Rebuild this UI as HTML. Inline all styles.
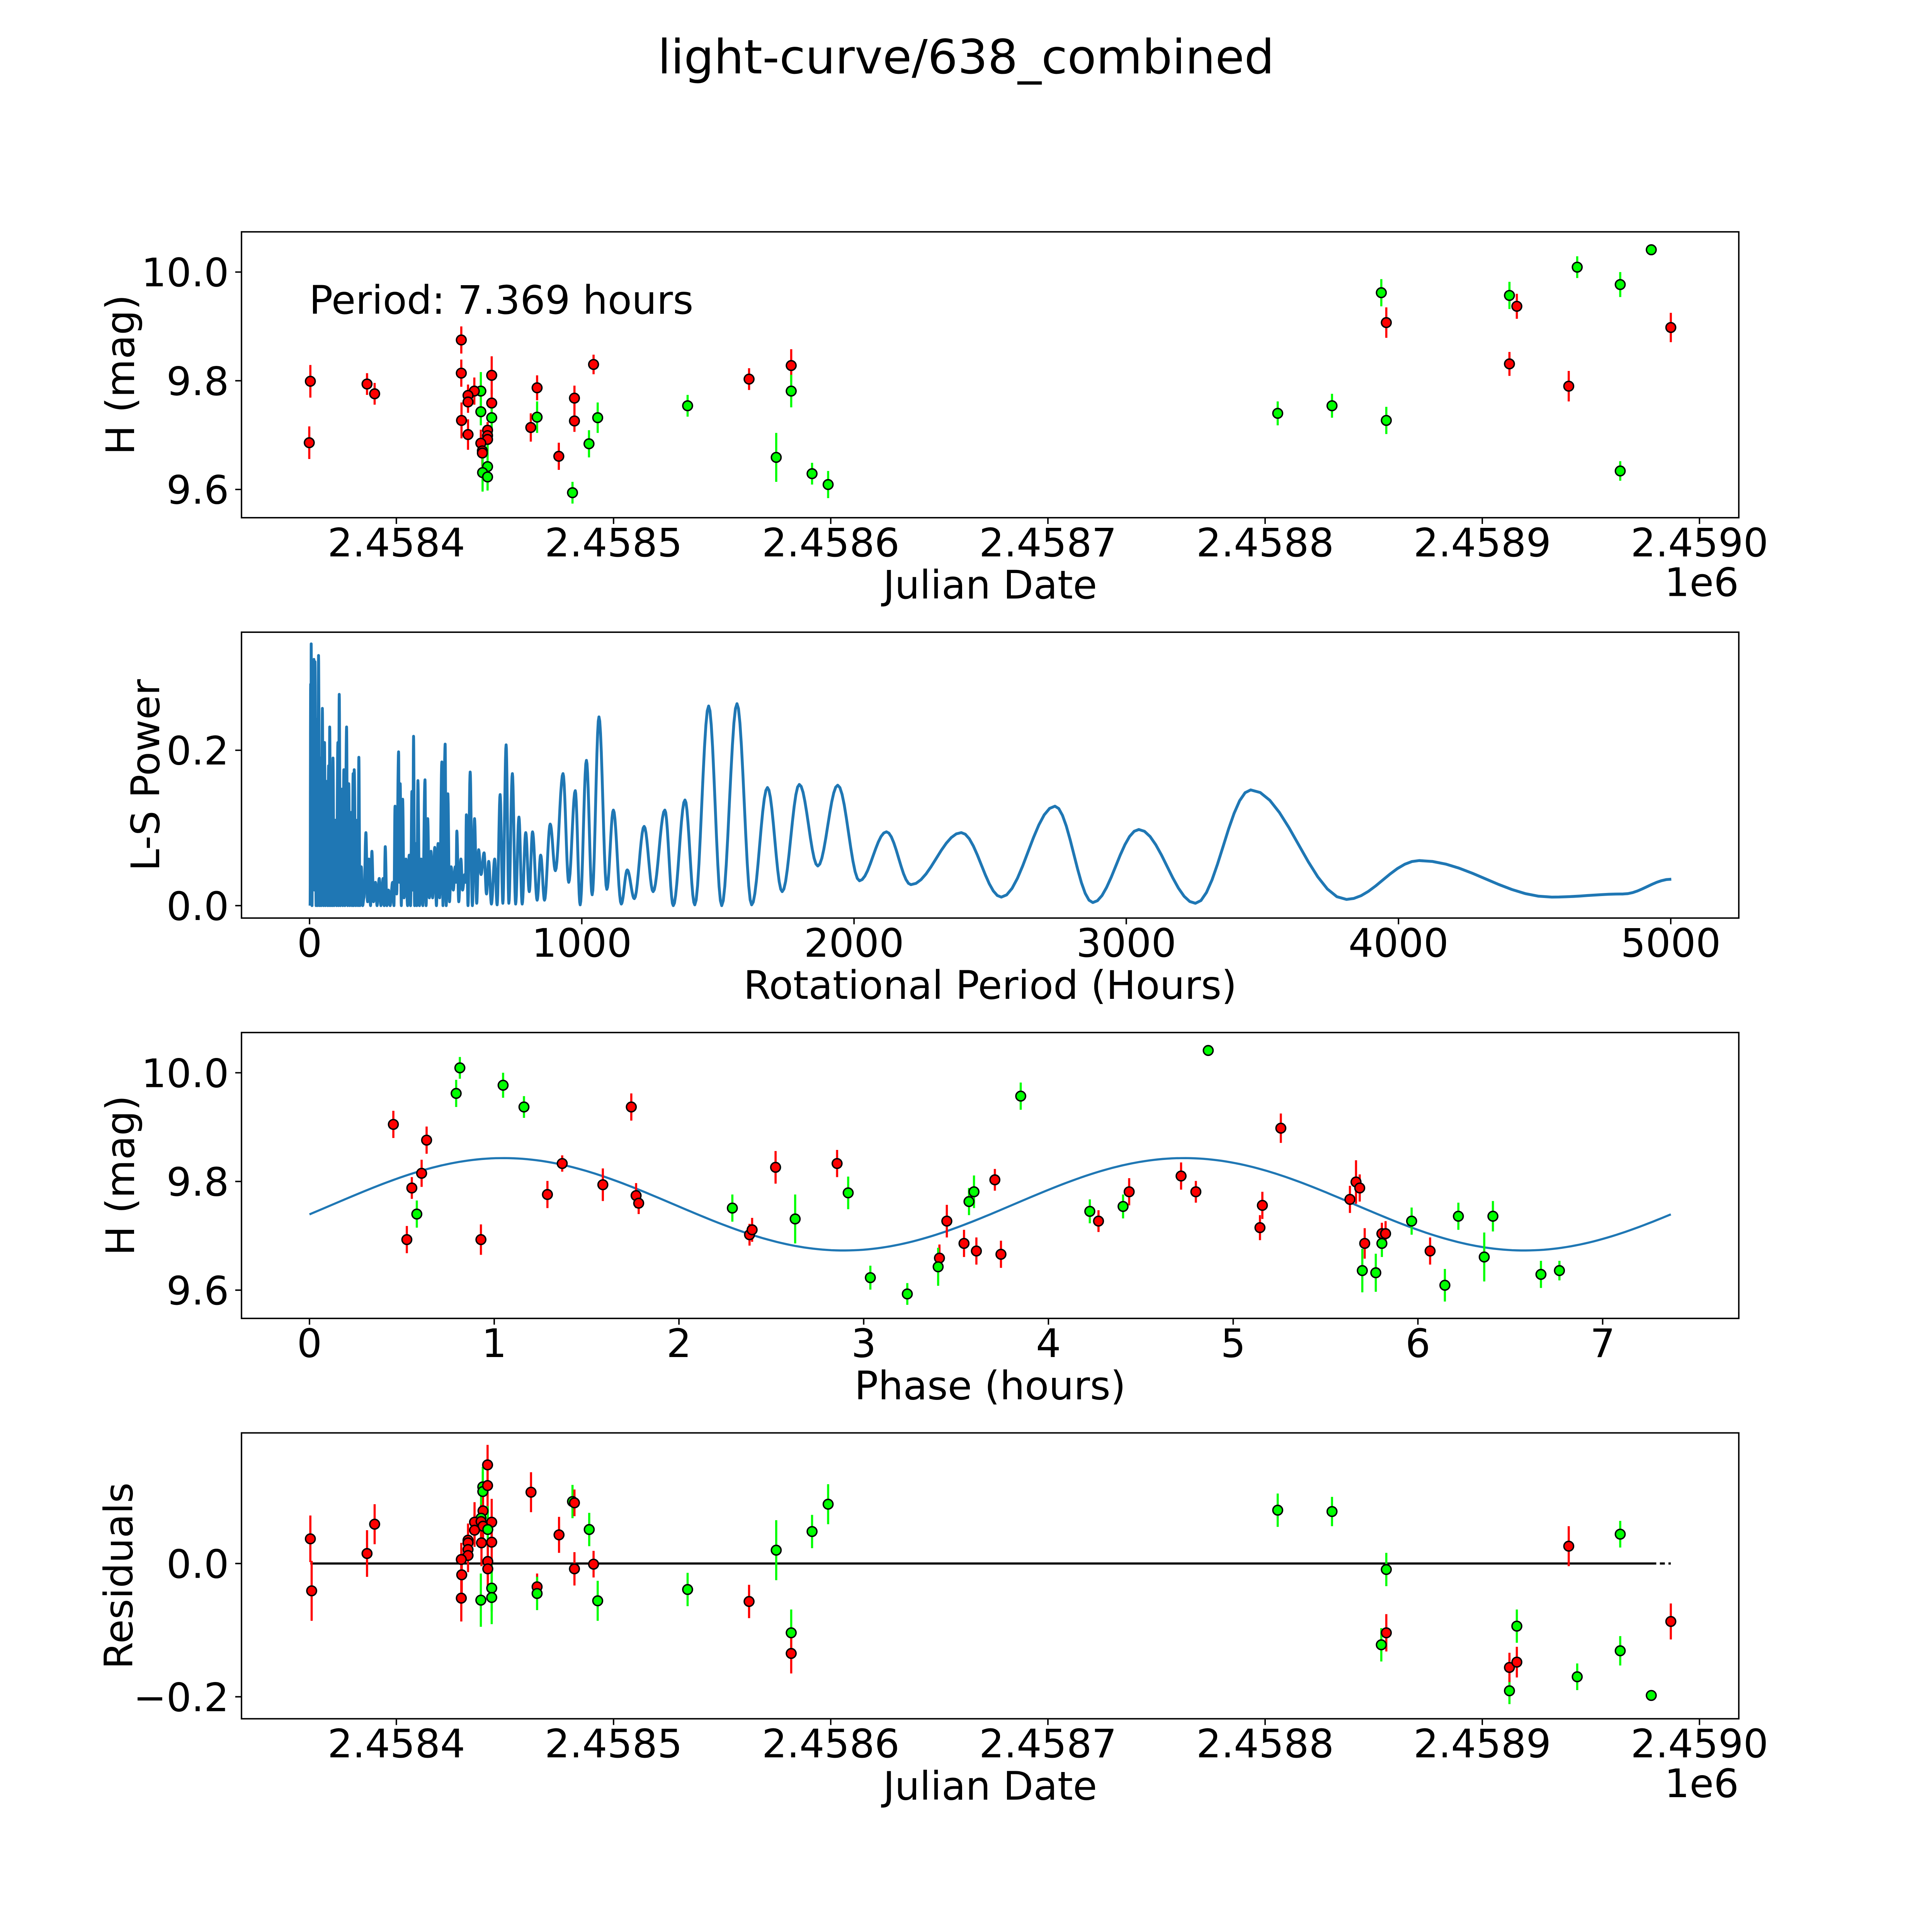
<!DOCTYPE html>
<html><head><meta charset="utf-8"><style>
html,body{margin:0;padding:0;background:#fff;overflow:hidden;width:100%;height:100%;}
svg{display:block;font-family:"DejaVu Sans","Liberation Sans",sans-serif;width:100vw;height:100vh;}
</style></head><body>
<svg id="fig" viewBox="0 0 5400 5400" preserveAspectRatio="xMinYMin meet" xmlns="http://www.w3.org/2000/svg">
<rect x="0" y="0" width="5400" height="5400" fill="#fff"/>
<text x="2700" y="205" font-size="132" text-anchor="middle">light-curve/638_combined</text>
</svg>
<script>
// ---- Panel 1: light curve (days since JD 2458400, H mag, error, band) ----
const lcJD  = [-39.6,-40.1,-13.5,-10.0,29.9,29.9,43.9,38.9,35.9,33.0,33.0,43.9,38.9,43.9,30.0,33.0,42.0,42.0,42.0,38.9,39.6,39.6,42.0,39.7,42.0,64.8,64.8,61.9,74.8,81.1,82.0,82.0,88.7,90.8,92.7,134.1,162.4,181.8,181.8,174.9,191.4,198.8,405.8,430.8,453.5,455.8,455.8,512.5,512.5,515.9,539.8,543.7,563.5,563.5,577.8,586.8];
const lcMag = [9.799,9.686,9.794,9.776,9.875,9.814,9.810,9.781,9.781,9.773,9.761,9.759,9.743,9.732,9.727,9.701,9.709,9.699,9.692,9.685,9.671,9.667,9.642,9.631,9.623,9.787,9.733,9.714,9.661,9.594,9.768,9.726,9.684,9.830,9.732,9.754,9.803,9.828,9.781,9.659,9.629,9.609,9.740,9.754,9.962,9.907,9.727,9.957,9.831,9.937,9.790,10.009,9.977,9.634,10.041,9.898];
const lcErr = [0.03,0.03,0.02,0.02,0.025,0.025,0.035,0.035,0.025,0.02,0.02,0.025,0.025,0.03,0.033,0.028,0.015,0.02,0.02,0.025,0.025,0.025,0.04,0.035,0.025,0.023,0.029,0.026,0.025,0.02,0.023,0.02,0.025,0.018,0.028,0.02,0.02,0.03,0.03,0.045,0.02,0.025,0.022,0.022,0.025,0.028,0.025,0.025,0.022,0.023,0.028,0.02,0.023,0.018,0.008,0.027];
const lcBand = "RRRRRRRGRRRRGGRRRRRRRRGGGRGRRGRRGRGGRRGGGGGGGRGGRRRGGGGR";
// ---- Panel 2: Lomb-Scargle periodogram extrema (hours, power) ----
const lsPeriod = [2,4,5,6,9,12,14,16,18,20,24,27,30,33,37,40,43,47,51,55,58,62,66,70,72,74,78,82,84,86,90,95,99,104,106,109,113,118,122,126,130,136,140,144,148,152,156,160,162,164,170,175,178,181,185,190,195,200,207,213,218,224,229,235,242,248,256,262,270,274,278,284,290,296,305,310,314,320,327,330,333,337,342,347,354,360,366,371,376,379,382,386,391,394,398,404,410,416,424,428,434,440,446,452,460,466,472,478,486,490,498,502,508,514,520,528,535,538,541,548,556,562,570,573,576,582,590,598,606,614,621,630,641,650,658,668,680,689,700,710,722,732,745,757,769,781,794,807,819,836,849,863,884,903,931,952,976,994,1017,1038,1063,1092,1116,1145,1167,1193,1229,1262,1305,1336,1379,1415,1466,1514,1570,1624,1682,1736,1799,1867,1940,2020,2119,2209,2394,2541,2738,2877,3046,3254,3457,3809,4076,4563,4825,5002];
const lsPower = [0.0,0.285,0.05,0.337,0.0,0.22,0.05,0.317,0.02,0.314,0.0,0.24,0.0,0.322,0.0,0.19,0.0,0.254,0.0,0.21,0.0,0.16,0.0,0.18,0.0,0.230,0.0,0.15,0.0,0.19,0.0,0.11,0.0,0.21,0.0,0.272,0.0,0.15,0.0,0.175,0.0,0.230,0.0,0.157,0.0,0.12,0.0,0.17,0.0,0.175,0.0,0.11,0.0,0.191,0.0,0.05,0.0,0.01,0.094,0.005,0.06,0.0,0.07,0.005,0.03,0.0,0.035,0.0,0.035,0.0,0.076,0.0,0.02,0.0,0.03,0.0,0.128,0.015,0.198,0.03,0.157,0.0,0.137,0.01,0.06,0.0,0.065,0.0,0.147,0.02,0.218,0.0,0.08,0.0,0.161,0.0,0.06,0.0,0.162,0.0,0.112,0.01,0.07,0.01,0.075,0.0,0.08,0.01,0.185,0.0,0.208,0.0,0.144,0.005,0.05,0.02,0.05,0.03,0.096,0.005,0.06,0.02,0.04,0.03,0.117,0.0,0.172,0.0,0.112,0.003,0.072,0.04,0.068,0.015,0.057,0.002,0.060,0.001,0.143,0.003,0.207,0.003,0.170,0.002,0.114,0.002,0.094,0.018,0.095,0.007,0.065,0.007,0.105,0.045,0.170,0.030,0.148,0.001,0.187,0.014,0.243,0.021,0.123,0.002,0.046,0.009,0.102,0.018,0.123,0.0,0.136,0.001,0.257,0.0,0.260,0.001,0.152,0.018,0.156,0.051,0.155,0.032,0.095,0.027,0.094,0.011,0.128,0.004,0.098,0.003,0.149,0.008,0.058,0.011,0.015,0.034];
// ---- Panel 3: phased light curve (hours, mag, band) ----
const phHours = [0.454,0.794,0.814,0.634,0.607,0.554,0.581,0.527,0.928,1.048,1.161,1.288,1.368,1.588,1.742,1.768,1.782,2.289,2.382,2.396,2.523,2.629,2.856,2.916,3.036,3.236,3.410,3.403,3.450,3.543,3.570,3.597,3.610,3.710,3.743,3.850,4.224,4.271,4.404,4.437,4.718,4.798,4.865,5.145,5.158,5.258,5.632,5.665,5.685,5.699,5.712,5.772,5.805,5.825,5.805,5.966,6.066,6.146,6.219,6.359,6.406,6.666,6.766];
const phMag = [9.905,9.962,10.009,9.876,9.815,9.788,9.740,9.693,9.693,9.977,9.937,9.776,9.833,9.794,9.937,9.774,9.760,9.751,9.702,9.711,9.826,9.731,9.833,9.779,9.623,9.593,9.659,9.643,9.727,9.686,9.763,9.781,9.672,9.803,9.666,9.957,9.745,9.727,9.754,9.781,9.810,9.781,10.041,9.715,9.756,9.898,9.767,9.799,9.788,9.636,9.686,9.632,9.704,9.704,9.686,9.727,9.672,9.609,9.736,9.661,9.736,9.629,9.636];
const phErr = [0.025,0.025,0.02,0.025,0.025,0.02,0.025,0.025,0.028,0.023,0.02,0.025,0.015,0.03,0.025,0.023,0.02,0.025,0.02,0.022,0.03,0.045,0.025,0.03,0.022,0.02,0.025,0.035,0.03,0.025,0.025,0.03,0.025,0.02,0.025,0.025,0.022,0.02,0.022,0.025,0.025,0.02,0.008,0.023,0.025,0.027,0.025,0.04,0.025,0.04,0.028,0.035,0.02,0.023,0.025,0.025,0.025,0.03,0.025,0.045,0.028,0.025,0.018];
const phBand = "RGGRRRGRRGGRRRRRRGRRRGRGGGRGRRGGRRRGGRGRRRGRRRRRRGRGRRGGRGGGGGG";
// fitted model parameters: mean, amplitude, phase of max (h), period (h)
const modelParams = [9.758, 0.085, 1.05, 7.369];
// ---- Panel 4: residuals ----
const resJD = [42.0,39.8,39.8,42.0,62.0,81.1,82.0,88.8,74.9,39.9,39.0,36.0,39.0,43.9,39.9,36.0,42.1,33.0,33.0,33.0,33.0,39.2,43.9,29.9,42.1,42.1,82.0,90.8,30.1,64.8,64.8,43.9,43.9,29.9,38.9,92.7,-39.6,-39.0,-13.5,-10.0,134.1,162.4,174.9,181.8,181.8,191.4,198.8,405.8,430.8,453.5,455.8,455.8,512.5,512.5,515.9,515.9,539.8,543.7,563.5,563.5,577.8,586.8];
const resVal = [0.148,0.115,0.108,0.117,0.107,0.093,0.091,0.051,0.043,0.079,0.068,0.062,0.063,0.062,0.056,0.050,0.051,0.035,0.031,0.021,0.012,0.031,0.032,0.006,0.003,-0.008,-0.008,-0.001,-0.017,-0.035,-0.045,-0.037,-0.051,-0.052,-0.055,-0.056,0.037,-0.041,0.015,0.059,-0.039,-0.057,0.020,-0.104,-0.135,0.048,0.089,0.080,0.078,-0.122,-0.104,-0.009,-0.191,-0.156,-0.148,-0.094,0.026,-0.170,0.044,-0.131,-0.198,-0.087];
const resErr = [0.03,0.03,0.03,0.04,0.03,0.025,0.02,0.025,0.027,0.04,0.035,0.03,0.025,0.035,0.025,0.025,0.035,0.025,0.02,0.02,0.025,0.035,0.035,0.025,0.03,0.03,0.025,0.02,0.035,0.02,0.025,0.035,0.04,0.035,0.04,0.03,0.035,0.045,0.035,0.03,0.025,0.025,0.045,0.035,0.03,0.025,0.03,0.025,0.022,0.025,0.028,0.025,0.02,0.022,0.023,0.025,0.03,0.02,0.02,0.022,0.008,0.027];
const resBand = "RGGRRGRGRRGRRRRRGRRRRRRRRRRRRRGGGRGGRRRRGRGGRGGGGGRGGRRGRGGGGR";
// ---- tick labels ----
const jdTicks = [0,100,200,300,400,500,600];
const jdTickLabels = ["2.4584","2.4585","2.4586","2.4587","2.4588","2.4589","2.4590"];
const magTicks = [9.6,9.8,10.0];
const magTickLabels = ["9.6","9.8","10.0"];
const lsXTicks = [0,1000,2000,3000,4000,5000];
const lsXTickLabels = ["0","1000","2000","3000","4000","5000"];
const lsYTicks = [0.0,0.2];
const lsYTickLabels = ["0.0","0.2"];
const phTicks = [0,1,2,3,4,5,6,7];
const phTickLabels = ["0","1","2","3","4","5","6","7"];
const resTicks = [-0.2,0.0];
const resTickLabels = ["\u22120.2","0.0"];

const NS = "http://www.w3.org/2000/svg";
const svg = document.getElementById('fig');
const L = 675, R = 4860, H = 799;
const tops = [648, 1767, 2886, 4005];
function mk(tag, attrs, parent){ const e=document.createElementNS(NS,tag); for(const k in attrs) e.setAttribute(k, attrs[k]); (parent||svg).appendChild(e); return e; }
function scale(d0,d1,r0,r1){ return v => r0 + (v-d0)/(d1-d0)*(r1-r0); }

function axes(idx, name, xs, ys, xt, xtl, yt, ytl, xlabel, ylabel, ylabX, offsetText){
  const top = tops[idx], bot = top+H;
  const g = mk('g', {});
  
  
  const frame = mk('rect', {x:L, y:top, width:R-L, height:H, fill:'none', stroke:'#000', 'stroke-width':4}, g);
  
  
  xt.forEach((v,i)=>{ const x=xs(v);
    const t = mk('line', {x1:x, x2:x, y1:bot, y2:bot+17.5, stroke:'#000','stroke-width':4}, g);
    
    
    const tx = mk('text', {x:x, y:bot+108, 'font-size':110, 'text-anchor':'middle'}, g);
    
    
    tx.textContent = xtl[i]; });
  yt.forEach((v,i)=>{ const y=ys(v);
    const t = mk('line', {x1:L-17.5, x2:L, y1:y, y2:y, stroke:'#000','stroke-width':4}, g);
    
    
    const tx = mk('text', {x:L-35, y:y+40, 'font-size':110, 'text-anchor':'end'}, g);
    
    
    tx.textContent = ytl[i]; });
  const xl = mk('text', {x:(L+R)/2, y:bot+226, 'font-size':110, 'text-anchor':'middle'}, g);
  
  
  xl.textContent = xlabel;
  const yl = mk('text', {x:ylabX, y:top+H/2, 'font-size':110, 'text-anchor':'middle', transform:'rotate(-90 '+ylabX+' '+(top+H/2)+')'}, g);
  
  
  yl.textContent = ylabel;
  if(offsetText){ const o = mk('text', {x:R, y:bot+219, 'font-size':110, 'text-anchor':'end'}, g);
    
    
    o.textContent = offsetText; }
  return g;
}
function points(g, xs, ys, X, Y, E, B, name){
  for(let i=0;i<X.length;i++){
    const c = B[i]==='G' ? '#00ff00' : '#ff0000';
    const x = xs(X[i]);
    const eb = mk('line', {x1:x, x2:x, y1:ys(Y[i]-E[i]), y2:ys(Y[i]+E[i]), stroke:c, 'stroke-width':6}, g);
    
    
  }
  for(let i=0;i<X.length;i++){
    const c = B[i]==='G' ? '#00ff00' : '#ff0000';
    const p = mk('circle', {cx:xs(X[i]), cy:ys(Y[i]), r:13.5, fill:c, stroke:'#000', 'stroke-width':4}, g);
    
    
  }
}

// Panel 1
{ const xs=scale(-71.3,618.1,L,R), ys=scale(9.548,10.074,tops[0]+H,tops[0]);
  const g = axes(0,'light-curve-panel',xs,ys,jdTicks,jdTickLabels,magTicks,magTickLabels,'Julian Date','H (mag)',375,'1e6');
  points(g,xs,ys,lcJD,lcMag,lcErr,lcBand,'observation');
  const t = mk('text',{x:864,y:877,'font-size':110},g);
  
  
  t.textContent='Period: 7.369 hours'; }
// Panel 2
{ const xs=scale(-250,5250,L,R), ys=scale(-0.016,0.352,tops[1]+H,tops[1]);
  const g = axes(1,'periodogram-panel',xs,ys,lsXTicks,lsXTickLabels,lsYTicks,lsYTickLabels,'Rotational Period (Hours)','L-S Power',445,null);
  let d='';
  for(let i=0;i<lsPeriod.length-1;i++){
    const n=10;
    for(let k=(i===0?0:1);k<=n;k++){ const t=k/n;
      const p=lsPeriod[i]+(lsPeriod[i+1]-lsPeriod[i])*t;
      const v=lsPower[i]+(lsPower[i+1]-lsPower[i])*(1-Math.cos(Math.PI*t))/2;
      d+=(d?'L':'M')+xs(p).toFixed(1)+','+ys(v).toFixed(1); }
  }
  const path = mk('path',{d:d,fill:'none',stroke:'#1f77b4','stroke-width':8,'stroke-linejoin':'round'},g);
  
   }
// Panel 3
{ const xs=scale(-0.368,7.737,L,R), ys=scale(9.548,10.074,tops[2]+H,tops[2]);
  const g = axes(2,'phased-panel',xs,ys,phTicks,phTickLabels,magTicks,magTickLabels,'Phase (hours)','H (mag)',375,null);
  const [m0,A,ph0,P]=modelParams; let d='';
  for(let k=0;k<=300;k++){ const ph=P*k/300; const v=m0+A*Math.cos(2*Math.PI*(ph-ph0)/(P/2));
    d+=(k?'L':'M')+xs(ph).toFixed(1)+','+ys(v).toFixed(1); }
  const path = mk('path',{d:d,fill:'none',stroke:'#1f77b4','stroke-width':6},g);
  
  
  points(g,xs,ys,phHours,phMag,phErr,phBand,'phased'); }
// Panel 4
{ const xs=scale(-71.3,618.1,L,R), ys=scale(-0.233,0.196,tops[3]+H,tops[3]);
  const g = axes(3,'residuals-panel',xs,ys,jdTicks,jdTickLabels,resTicks,resTickLabels,'Julian Date','Residuals',370,'1e6');
  const x0=Math.min(...resJD), x1=Math.max(...resJD);
  const zl = mk('line',{x1:xs(x0),x2:xs(577.8),y1:ys(0),y2:ys(0),stroke:'#000','stroke-width':6},g);
  
  
  const zd = mk('line',{x1:xs(577.8),x2:xs(x1),y1:ys(0),y2:ys(0),stroke:'#000','stroke-width':6,'stroke-dasharray':'14 10'},g);
  
  
  points(g,xs,ys,resJD,resVal,resErr,resBand,'residual'); }
</script>
</body></html>
